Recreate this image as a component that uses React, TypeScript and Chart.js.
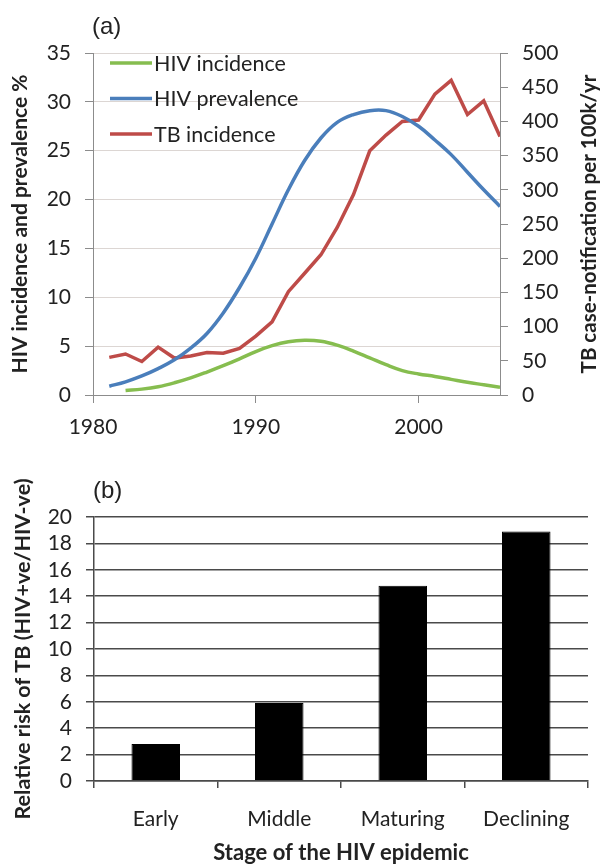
import React, { useEffect, useRef } from 'react';
import { Chart, registerables } from 'chart.js';

Chart.register(...registerables);

// ---------- Data: panel (a) ----------
const years = [1981, 1982, 1983, 1984, 1985, 1986, 1987, 1988, 1989, 1990, 1991, 1992, 1993, 1994, 1995, 1996, 1997, 1998, 1999, 2000, 2001, 2002, 2003, 2004, 2005];
const hivIncidence = [null, 0.45, 0.6, 0.85, 1.25, 1.75, 2.35, 3.0, 3.7, 4.45, 5.05, 5.45, 5.6, 5.5, 5.1, 4.5, 3.8, 3.1, 2.5, 2.15, 1.9, 1.6, 1.3, 1.05, 0.8];
const hivPrevalence = [0.9, 1.35, 1.95, 2.7, 3.6, 4.8, 6.3, 8.4, 11.0, 14.0, 17.5, 21.0, 24.0, 26.3, 27.9, 28.7, 29.1, 29.1, 28.5, 27.5, 26.1, 24.6, 22.8, 21.0, 19.3];
const tbIncidence = [55, 60, 49, 70, 54, 57, 62, 61, 68, 86, 107, 151, 178, 205, 245, 293, 357, 380, 400, 402, 440, 460, 410, 430, 378];
const seriesLabels = ['HIV incidence', 'HIV prevalence', 'TB incidence'];

// ---------- Data: panel (b) ----------
const stages = ['Early', 'Middle', 'Maturing', 'Declining'];
const relativeRisk = [2.8, 5.9, 14.8, 18.9];

const FONT = 'Lato';
const TEXT = '#222222';
const GREEN = '#86bd4f';
const BLUE = '#4a7ebb';
const RED = '#be4b48';

const pts = (vals: (number | null)[]) => years.map((y, i) => ({ x: y, y: vals[i] }));

const panelLabel = {
  id: 'panelLabel',
  afterDraw(chart: any, _args: any, opts: any) {
    const { ctx, chartArea } = chart;
    ctx.save();
    ctx.font = `${opts.size}px "Liberation Sans"`;
    ctx.fillStyle = TEXT;
    ctx.textAlign = 'left';
    ctx.textBaseline = 'middle';
    ctx.fillText(opts.text, chartArea.left + opts.dx, chartArea.top - opts.dy);
    ctx.restore();
  },
};

const insideLegend = {
  id: 'insideLegend',
  afterDraw(chart: any, _args: any, opts: any) {
    if (!opts || !opts.enabled) return;
    const { ctx, chartArea } = chart;
    ctx.save();
    ctx.font = `${opts.size}px ${FONT}`;
    ctx.textAlign = 'left';
    ctx.textBaseline = 'middle';
    chart.data.datasets.forEach((d: any, i: number) => {
      const y = chartArea.top + opts.top + i * opts.spacing;
      const x0 = chartArea.left + opts.left;
      ctx.strokeStyle = d.borderColor;
      ctx.lineWidth = d.borderWidth;
      ctx.beginPath();
      ctx.moveTo(x0, y);
      ctx.lineTo(x0 + opts.lineLen, y);
      ctx.stroke();
      ctx.fillStyle = TEXT;
      ctx.fillText(d.label, x0 + opts.lineLen + opts.gap, y + 1);
    });
    ctx.restore();
  },
};

const rightTitle = {
  id: 'rightTitle',
  afterDraw(chart: any, _args: any, opts: any) {
    if (!opts || !opts.text) return;
    const { ctx, chartArea } = chart;
    ctx.save();
    ctx.font = `bold ${opts.size}px ${FONT}`;
    ctx.fillStyle = TEXT;
    ctx.textAlign = 'center';
    ctx.textBaseline = 'middle';
    ctx.translate(opts.x, (chartArea.top + chartArea.bottom) / 2);
    ctx.rotate(-Math.PI / 2);
    ctx.fillText(opts.text, 0, 0);
    ctx.restore();
  },
};

export default function App() {
  const refA = useRef<HTMLCanvasElement>(null);
  const refB = useRef<HTMLCanvasElement>(null);

  useEffect(() => {
    Chart.defaults.font.family = FONT;
    Chart.defaults.color = TEXT;

    const tickFont = { family: FONT, size: 21 };

    const chartA = new Chart(refA.current as HTMLCanvasElement, {
      type: 'line',
      data: {
        datasets: [
          { label: seriesLabels[0], data: pts(hivIncidence), borderColor: GREEN, backgroundColor: GREEN, borderWidth: 3.5, pointRadius: 0, tension: 0.4, yAxisID: 'y' },
          { label: seriesLabels[1], data: pts(hivPrevalence), borderColor: BLUE, backgroundColor: BLUE, borderWidth: 3.5, pointRadius: 0, tension: 0.4, yAxisID: 'y' },
          { label: seriesLabels[2], data: pts(tbIncidence), borderColor: RED, backgroundColor: RED, borderWidth: 3.5, pointRadius: 0, tension: 0, yAxisID: 'y1' },
        ],
      },
      options: {
        responsive: false,
        animation: false,
        layout: { padding: { top: 53, left: 0, right: 0, bottom: 0 } },
        plugins: {
          legend: { display: false },
          tooltip: { enabled: false },
          panelLabel: { text: '(a)', size: 24, dx: -1, dy: 26 },
          insideLegend: { enabled: true, size: 21.5, left: 17, top: 10, spacing: 35.5, lineLen: 42, gap: 2 },
          rightTitle: { text: 'TB case-notification per 100k/yr', size: 20.5, x: 589 },
        } as any,
        scales: {
          x: {
            type: 'linear',
            min: 1980,
            max: 2005,
            afterFit: (s: any) => { s.height = 45; },
            ticks: { stepSize: 10, includeBounds: false, font: tickFont, padding: 12, callback: (v: any) => String(v) },
            grid: { drawOnChartArea: false, tickLength: 8, tickColor: '#8c8c8c' },
            border: { color: '#8c8c8c', width: 1 },
          },
          y: {
            position: 'left',
            min: 0,
            max: 35,
            afterFit: (s: any) => { s.width = 93; },
            ticks: { stepSize: 5, font: tickFont, padding: 14 },
            grid: { color: (c: any) => (c.tick && c.tick.value === 0 ? '#8c8c8c' : '#dcd6d3'), tickLength: 8, tickColor: '#8c8c8c' },
            border: { color: '#8c8c8c', width: 1 },
            title: { display: true, text: 'HIV incidence and prevalence %', font: { family: FONT, size: 21, weight: 'bold' }, color: TEXT, padding: { top: 8, bottom: 0 } },
          },
          y1: {
            position: 'right',
            min: 0,
            max: 500,
            afterFit: (s: any) => { s.width = 102; },
            ticks: { stepSize: 50, font: tickFont, padding: 14 },
            grid: { drawOnChartArea: false, tickLength: 8, tickColor: '#8c8c8c' },
            border: { color: '#8c8c8c', width: 1 },
          },
        },
      },
      plugins: [panelLabel, insideLegend, rightTitle],
    } as any);

    const chartB = new Chart(refB.current as HTMLCanvasElement, {
      type: 'bar',
      data: {
        labels: stages,
        datasets: [
          { label: 'Relative risk', data: relativeRisk, backgroundColor: '#000000', borderColor: '#000000', borderWidth: 1, barPercentage: 0.393, categoryPercentage: 1 },
        ],
      },
      options: {
        responsive: false,
        animation: false,
        layout: { padding: { top: 77, left: 0, right: 14, bottom: 0 } },
        plugins: {
          legend: { display: false },
          tooltip: { enabled: false },
          panelLabel: { text: '(b)', size: 24, dx: -1, dy: 26 },
        } as any,
        scales: {
          x: {
            afterFit: (s: any) => { s.height = 86; },
            ticks: { font: tickFont, padding: 19 },
            grid: { drawOnChartArea: false, offset: true, tickLength: 7, tickColor: '#4a4a4a', lineWidth: 1.5 },
            border: { color: '#4a4a4a', width: 1.5 },
            title: { display: true, text: 'Stage of the HIV epidemic', font: { family: FONT, size: 22, weight: 'bold' }, color: TEXT, padding: { top: 0, bottom: 1 } },
          },
          y: {
            min: 0,
            max: 20,
            afterFit: (s: any) => { s.width = 94; },
            ticks: { stepSize: 2, autoSkip: false, font: tickFont, padding: 14 },
            grid: { color: '#4a4a4a', lineWidth: 1.5, tickLength: 8, tickColor: '#4a4a4a' },
            border: { color: '#4a4a4a', width: 1.5 },
            title: { display: true, text: 'Relative risk of TB (HIV+ve/HIV-ve)', font: { family: FONT, size: 21.5, weight: 'bold' }, color: TEXT, padding: { top: 10, bottom: 0 } },
          },
        },
      },
      plugins: [panelLabel],
    } as any);

    return () => {
      chartA.destroy();
      chartB.destroy();
    };
  }, []);

  return (
    <div style={{ position: 'absolute', left: 0, top: 0, width: 602, height: 867, background: '#ffffff' }}>
      <canvas ref={refA} width={602} height={440} style={{ position: 'absolute', left: 0, top: 0, width: 602, height: 440 }} />
      <canvas ref={refB} width={602} height={427} style={{ position: 'absolute', left: 0, top: 440, width: 602, height: 427 }} />
    </div>
  );
}
